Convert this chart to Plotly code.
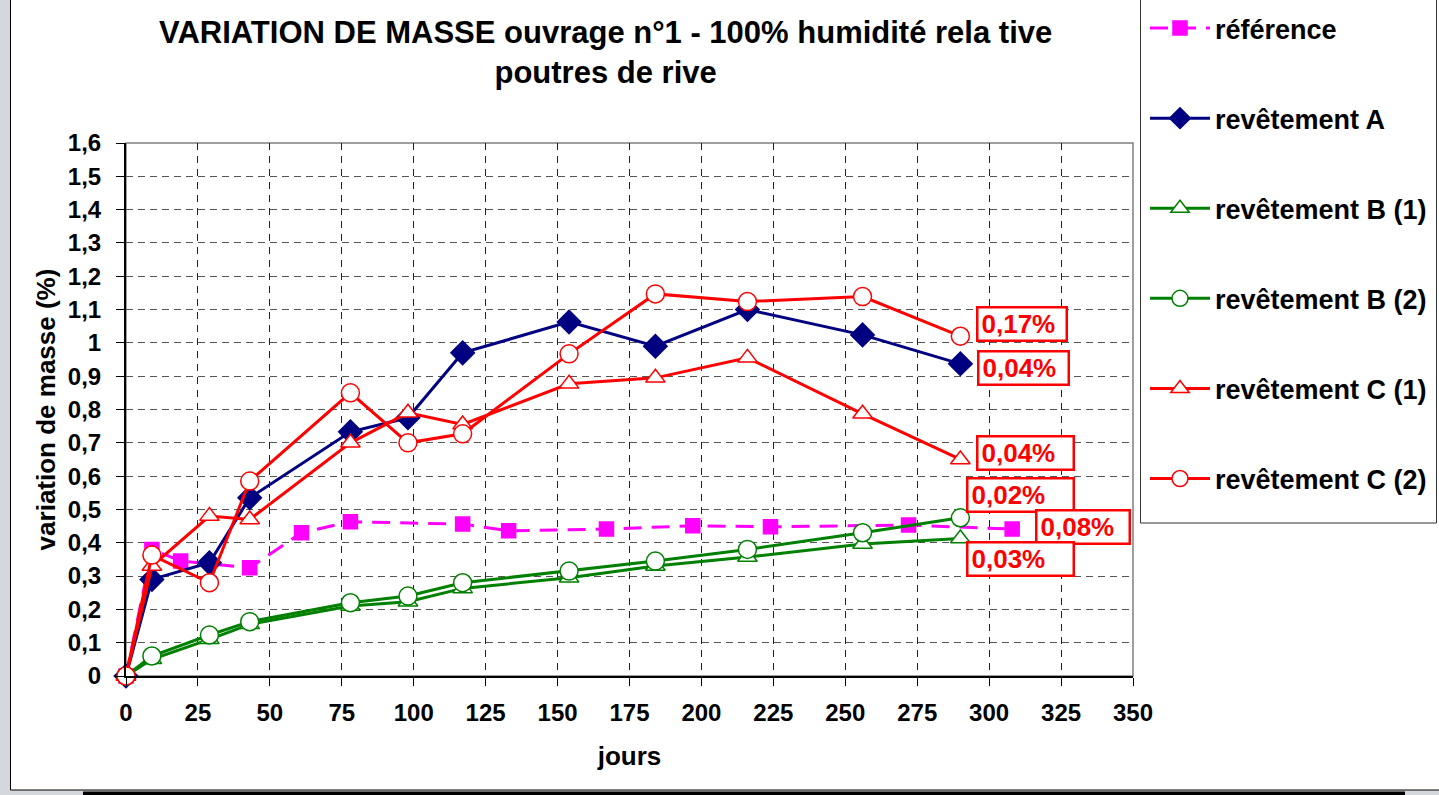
import plotly.graph_objects as go

# ---------------- data ----------------
days = [0, 9, 29, 43, 78, 98, 117, 154, 184, 216, 256, 290]
rev_A = [0, 0.29, 0.34, 0.535, 0.733, 0.775, 0.97, 1.063, 0.99, 1.10, 1.024, 0.937]
rev_B1 = [0, 0.05, 0.11, 0.155, 0.21, 0.223, 0.263, 0.295, 0.33, 0.357, 0.396, 0.413]
rev_B2 = [0, 0.06, 0.123, 0.163, 0.22, 0.24, 0.28, 0.315, 0.345, 0.38, 0.43, 0.475]
rev_C1 = [0, 0.33, 0.48, 0.47, 0.70, 0.79, 0.755, 0.877, 0.895, 0.955, 0.787, 0.65]
rev_C2 = [0, 0.363, 0.28, 0.585, 0.85, 0.70, 0.727, 0.967, 1.147, 1.124, 1.139, 1.02]

ref_days = [0, 9, 19, 43, 61, 78, 117, 133, 167, 197, 224, 272, 308]
ref_vals = [0, 0.38, 0.345, 0.325, 0.43, 0.463, 0.456, 0.436, 0.441, 0.451, 0.448, 0.453, 0.441]

series_names = ["référence", "revêtement A", "revêtement B (1)", "revêtement B (2)",
                "revêtement C (1)", "revêtement C (2)"]

y_tick_vals = [0, 0.1, 0.2, 0.3, 0.4, 0.5, 0.6, 0.7, 0.8, 0.9, 1.0, 1.1, 1.2, 1.3, 1.4, 1.5, 1.6]
y_tick_text = ["0", "0,1", "0,2", "0,3", "0,4", "0,5", "0,6", "0,7", "0,8", "0,9",
               "1", "1,1", "1,2", "1,3", "1,4", "1,5", "1,6"]
x_tick_vals = [0, 25, 50, 75, 100, 125, 150, 175, 200, 225, 250, 275, 300, 325, 350]

label_texts = ["0,17%", "0,04%", "0,04%", "0,02%", "0,08%", "0,03%"]

# ---------------- layout geometry ----------------
W, H = 1439, 795
L, R, T, B = 126, 306, 143, 119
PW, PH = W - L - R, H - T - B


def px_x(px):
    return (px - L) / PW


def px_y(py):
    return (H - B - py) / PH


# label placement (data coords of box centre) and box widths in px
label_pos = [(311.4, 1.057), (311.8, 0.925), (312.8, 0.669), (311.0, 0.543), (332.6, 0.447), (311.0, 0.350)]
label_w = [92, 93, 99, 109, 96, 109]

FONT = "Liberation Sans, Arial, sans-serif"
MAGENTA, NAVY, GREEN, RED = "#FF00FF", "#000080", "#008000", "#FF0000"

fig = go.Figure()

styles = [
    dict(x=ref_days, y=ref_vals, color=MAGENTA, symbol="square", size=14, fill=MAGENTA, dash="18px,10px"),
    dict(x=days, y=rev_A, color=NAVY, symbol="diamond", size=18, fill=NAVY, dash="solid"),
    dict(x=days, y=rev_B1, color=GREEN, symbol="triangle-up", size=17, fill="white", dash="solid"),
    dict(x=days, y=rev_B2, color=GREEN, symbol="circle", size=18, fill="white", dash="solid"),
    dict(x=days, y=rev_C1, color=RED, symbol="triangle-up", size=17, fill="white", dash="solid"),
    dict(x=days, y=rev_C2, color=RED, symbol="circle", size=18, fill="white", dash="solid"),
]

for name, s in zip(series_names, styles):
    fig.add_trace(go.Scatter(
        x=s["x"], y=s["y"], name=name, mode="lines+markers",
        legendgroup=name, cliponaxis=False,
        line=dict(color=s["color"], width=3, dash=s["dash"]),
        marker=dict(symbol=s["symbol"], size=s["size"], color=s["fill"],
                    line=dict(color=s["color"], width=1.5)),
    ))

annotations = []
for txt, (ax, ay), bw in zip(label_texts, label_pos, label_w):
    annotations.append(dict(
        x=ax, y=ay, xref="x", yref="y", text=txt, showarrow=False,
        xanchor="center", yanchor="middle", align="left", valign="middle",
        width=bw - 2 * (2.5 + 3), height=32 - 2 * (2.5 + 1), borderpad=3,
        bordercolor=RED, borderwidth=2.5, bgcolor="white",
        font=dict(family=FONT, size=26, color=RED, weight="bold"),
    ))

annotations.append(dict(
    x=px_x(605), y=px_y(52), xref="paper", yref="paper", showarrow=False,
    xanchor="center", yanchor="middle", align="center",
    text="VARIATION DE MASSE ouvrage n°1 - 100% humidité rela tive<br>poutres de rive",
    font=dict(family=FONT, size=31, color="black", weight="bold"),
))

shapes = [
    # white chart area with black border on grey page
    dict(type="rect", xref="paper", yref="paper", layer="below",
         x0=px_x(10.5), x1=px_x(1460), y0=px_y(-10), y1=px_y(790),
         fillcolor="white", line=dict(color="black", width=1)),
    # shadow bar
    dict(type="rect", xref="paper", yref="paper", layer="below",
         x0=px_x(83), x1=px_x(1405), y0=px_y(800), y1=px_y(791.5),
         fillcolor="black", line=dict(width=0)),
    # legend frame
    dict(type="rect", xref="paper", yref="paper", layer="below",
         x0=px_x(1140.5), x1=px_x(1436.5), y0=px_y(523), y1=px_y(-10),
         fillcolor="white", line=dict(color="#333333", width=1)),
    # plot area frame (grey)
    dict(type="rect", xref="paper", yref="paper", layer="below",
         x0=0, x1=1, y0=0, y1=1, line=dict(color="#808080", width=1.5)),
]

fig.update_layout(
    width=W, height=H, autosize=False,
    margin=dict(l=L, r=R, t=T, b=B, pad=0, autoexpand=False),
    paper_bgcolor="#D4D7DB", plot_bgcolor="white",
    font=dict(family=FONT, color="black"),
    showlegend=True,
    legend=dict(
        x=px_x(1145), y=px_y(4), xanchor="left", yanchor="top",
        xref="paper", yref="paper", maxheight=720,
        bgcolor="rgba(0,0,0,0)", borderwidth=0,
        font=dict(family=FONT, size=27, color="black", weight="bold"),
        itemwidth=60, tracegroupgap=52, traceorder="grouped",
    ),
    annotations=annotations,
    shapes=shapes,
    xaxis=dict(
        range=[0, 350], tickvals=x_tick_vals, ticks="outside", ticklen=8, tickwidth=1,
        tickcolor="black", showline=True, linecolor="black", linewidth=2,
        showgrid=True, gridcolor="#222222", gridwidth=1, griddash="7px,6px",
        zeroline=False, ticklabelstandoff=6,
        tickfont=dict(family=FONT, size=24, color="black", weight="bold"),
        title=dict(text="jours", standoff=22,
                   font=dict(family=FONT, size=26, color="black", weight="bold")),
    ),
    yaxis=dict(
        range=[0, 1.6], tickvals=y_tick_vals, ticktext=y_tick_text, ticks="outside",
        ticklen=8, tickwidth=1, tickcolor="black", showline=True, linecolor="black",
        linewidth=2, showgrid=True, gridcolor="#555555", gridwidth=1, griddash="7px,5px",
        zeroline=False, ticklabelstandoff=10,
        tickfont=dict(family=FONT, size=24, color="black", weight="bold"),
        title=dict(text="variation de masse (%)", standoff=5,
                   font=dict(family=FONT, size=26, color="black", weight="bold")),
    ),
)

fig.write_html(
    "out.html",
    config={"responsive": False, "displayModeBar": False},
    post_script=(
        "document.documentElement.style.margin='0';"
        "document.documentElement.style.overflow='hidden';"
        "document.body.style.margin='0';"
        "document.body.style.overflow='hidden';"
    ),
)
